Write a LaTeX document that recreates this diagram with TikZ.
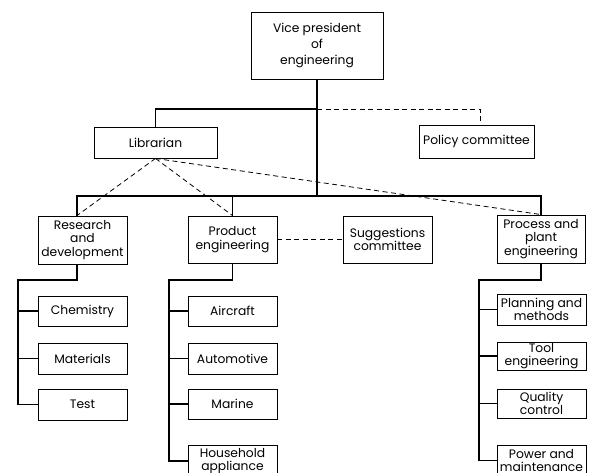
\documentclass[tikz,border=0pt]{standalone}
\usepackage{fontspec}
\setmainfont{Poppins}
\usetikzlibrary{calc}
\tikzset{
  unit/.style={draw, line width=0.9pt, minimum width=89, minimum height=31,
    align=center, inner sep=1pt, font=\fontsize{12.3}{13.5}\selectfont},
  link/.style={line width=1.4pt},
  dashlink/.style={line width=0.8pt, dash pattern=on 5pt off 3.5pt}
}
\begin{document}
\begin{tikzpicture}[x=1pt,y=-1pt]
\useasboundingbox (0,0) rectangle (593,472);
% top level
\node[unit, minimum width=132, minimum height=67, font=\fontsize{12.3}{16}\selectfont] (VP) at (317,45.5) {Vice president\\of\\engineering};
\node[unit, minimum width=123] (LIB) at (155.5,142.5) {Librarian};
\node[unit, minimum width=115, minimum height=33] (POL) at (476.5,141.5) {Policy committee};
% departments
\node[unit, minimum height=48] (RD) at (82.5,240) {Research\\and\\development};
\node[unit, minimum height=47] (PE) at (232.5,239.5) {Product\\engineering};
\node[unit, minimum height=47] (SUG) at (387.5,239.5) {Suggestions\\committee};
\node[unit, minimum width=88, minimum height=48] (PPE) at (541,239) {Process and\\plant\\engineering};
% research and development
\node[unit, minimum height=30] (CHEM) at (82.5,311) {Chemistry};
\node[unit] (MAT) at (82.5,358.5) {Materials};
\node[unit] (TEST) at (82.5,404.5) {Test};
% product engineering
\node[unit, minimum height=30] (AIR) at (232.5,311) {Aircraft};
\node[unit] (AUTO) at (232.5,358.5) {Automotive};
\node[unit, minimum height=30] (MAR) at (232.5,404) {Marine};
\node[unit, minimum height=31, font=\fontsize{12.3}{12.5}\selectfont] (HOUSE) at (232.5,461) {Household\\appliance};
% process and plant engineering
\node[unit] (PLAN) at (541.5,309.5) {Planning and\\methods};
\node[unit, minimum height=28] (TOOL) at (541.5,356) {Tool\\engineering};
\node[unit, minimum height=29] (QUAL) at (541.5,403.5) {Quality\\control};
\node[unit, minimum height=31, font=\fontsize{12.3}{12.5}\selectfont] (POW) at (541.5,460.5) {Power and\\maintenance};
% lines from the vice president
\coordinate (top) at (317,109);
\coordinate (bus) at (317,196);
\coordinate (rdup) at ([xshift=-5.5pt]RD.north);
\draw[link] (VP) -- (bus);
\draw[link] (top) -| (LIB);
\draw[dashlink] (top) -| ([xshift=3.5pt]POL.north);
\draw[link] (rdup) |- (bus) -| (PPE.north);
\draw[link] (PE.north) |- (bus);
\draw[dashlink] (LIB.south) -- (rdup);
\draw[dashlink] (LIB.south) -- (PE.north);
\draw[dashlink] (LIB.south) -- (PPE.north);
\draw[dashlink] (PE) -- (SUG);
% sections
\coordinate (rdspine) at (18,280);
\coordinate (pespine) at (169,280);
\coordinate (ppespine) at (479,280);
\draw[link] ([xshift=-5.5pt]RD.south) |- (rdspine) |- (TEST.west);
\draw[link] (PE.south) |- (pespine) |- (HOUSE.west);
\draw[link] (PPE.south) |- (ppespine) |- (POW.west);
\foreach \n in {CHEM,MAT} \draw[link] (rdspine |- \n.west) -- (\n.west);
\foreach \n in {AIR,AUTO,MAR} \draw[link] (pespine |- \n.west) -- (\n.west);
\foreach \n in {PLAN,TOOL,QUAL} \draw[link] (ppespine |- \n.west) -- (\n.west);
\end{tikzpicture}
\end{document}
